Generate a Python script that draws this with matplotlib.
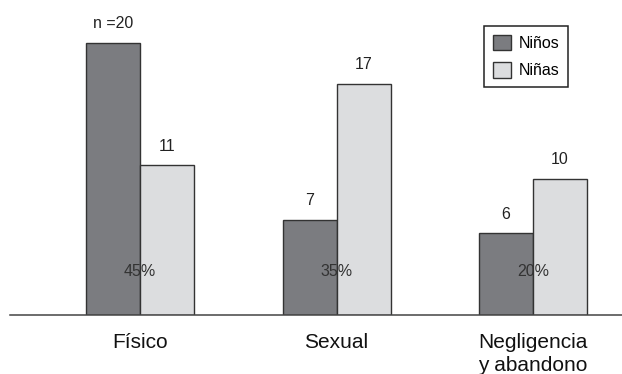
import matplotlib
matplotlib.use("Agg")
import matplotlib.pyplot as plt
import numpy as np

plt.rcParams['font.family'] = ['Liberation Sans', 'DejaVu Sans']

categories = ["Físico", "Sexual", "Negligencia\ny abandono"]
ninos = [20, 7, 6]
ninas = [11, 17, 10]
ninos_labels = ["n =20", "7", "6"]
ninas_labels = ["11", "17", "10"]
percentages = ["45%", "35%", "20%"]
series_names = ["Niños", "Niñas"]

dark = "#7b7c80"
light = "#dcdddf"
edge = "#333333"

fig = plt.figure(figsize=(6.22, 3.74), dpi=100)
ax = fig.add_axes([10 / 622, 59 / 374, 612 / 622, 315 / 374])

x = np.arange(len(categories))
w = 0.275
b1 = ax.bar(x - w / 2, ninos, w, color=dark, edgecolor=edge, linewidth=1.0, label=series_names[0])
b2 = ax.bar(x + w / 2, ninas, w, color=light, edgecolor=edge, linewidth=1.0, label=series_names[1])

for bars, labels in ((b1, ninos_labels), (b2, ninas_labels)):
    for rect, lab in zip(bars, labels):
        ax.annotate(lab, (rect.get_x() + rect.get_width() / 2, rect.get_height()),
                    xytext=(0, 10.5), textcoords="offset points",
                    ha="center", va="baseline", fontsize=11.5, color="#222222")

for xi, p in zip(x, percentages):
    ax.text(xi, 2.87, p, ha="center", va="baseline", fontsize=11.5, color="#333333")

# category names below the axis, one text per line (first line on a shared baseline)
for xi, c in zip(x, categories):
    for k, line in enumerate(c.split("\n")):
        ax.annotate(line, (xi, 0), xytext=(0, -24 - 16 * k), textcoords="offset points",
                    ha="center", va="baseline", fontsize=15, color="#111111",
                    annotation_clip=False)

ax.set_xlim(-0.662, 2.453)
ax.set_ylim(0, 23.16)
for s in ["top", "right", "left"]:
    ax.spines[s].set_visible(False)
ax.spines["bottom"].set_color("#444444")
ax.spines["bottom"].set_linewidth(1.1)
ax.set_xticks([])
ax.set_yticks([])

leg = ax.legend(loc="upper left", bbox_to_anchor=(484 / 622, 1 - 26 / 374),
                bbox_transform=fig.transFigure, fontsize=11.5, frameon=True,
                fancybox=False, borderpad=0.55, handlelength=1.125, handleheight=1.125,
                handletextpad=0.5, labelspacing=0.69, borderaxespad=0)
leg.get_frame().set_edgecolor("#222222")
leg.get_frame().set_linewidth(1.1)
leg.get_frame().set_alpha(1)

fig.savefig("out.png", dpi=100)
